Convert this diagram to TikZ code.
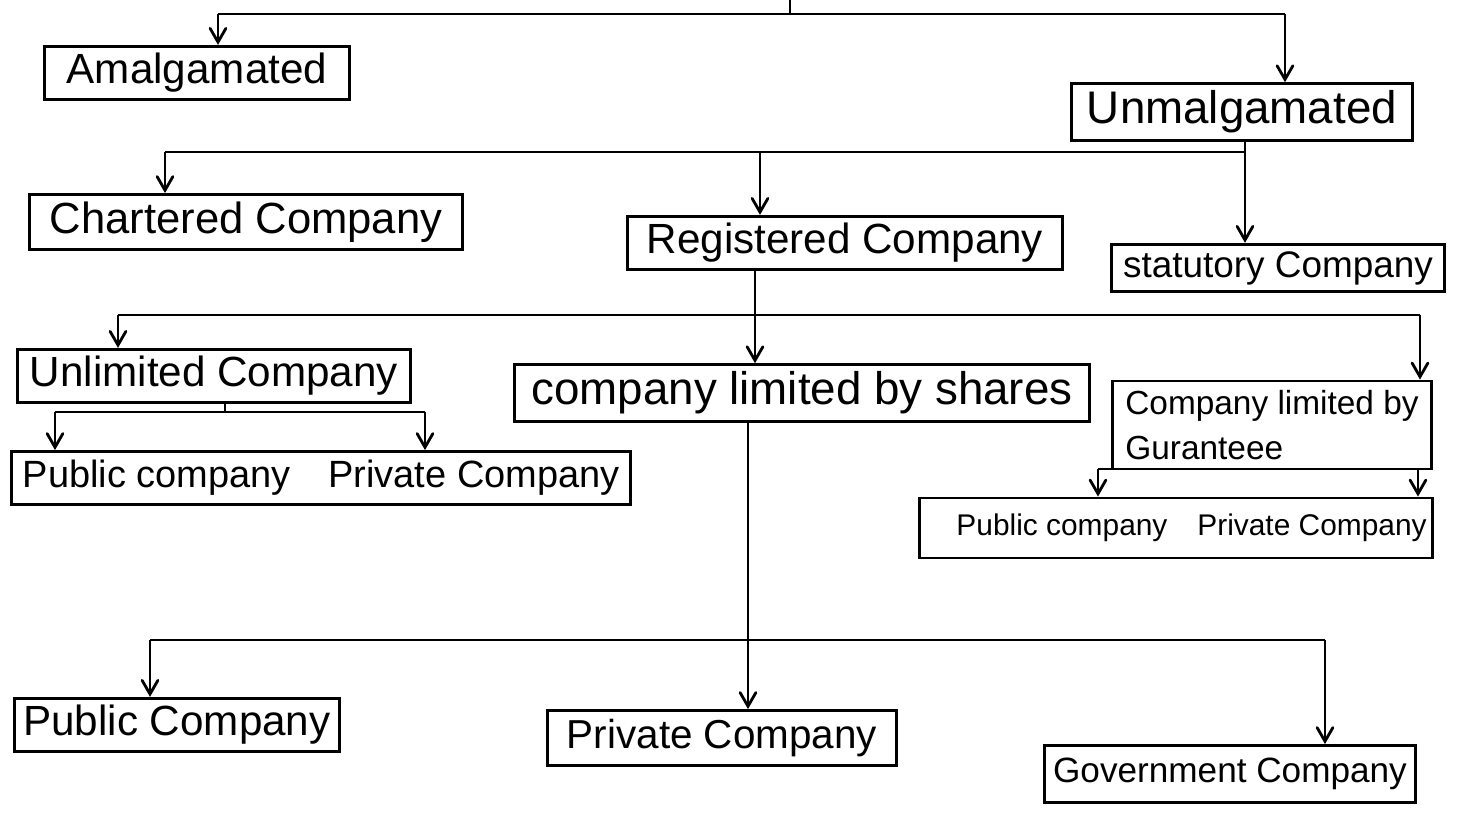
\documentclass[tikz,border=0pt]{standalone}
\usepackage{fontspec}
\setmainfont{Liberation Sans}
\usetikzlibrary{arrows}
\tikzset{
  box/.style={draw, thick, inner sep=2pt},
  fbig/.style={font=\fontsize{13}{15}\selectfont},
  fmid/.style={font=\fontsize{12}{14}\selectfont},
  fsml/.style={font=\fontsize{10.5}{12.5}\selectfont},
}

\begin{document}
\begin{tikzpicture}[x=0.01cm, y=-0.01cm, thick, >=angle 60]
\useasboundingbox (0,0) rectangle (1462,831);
% first row
\node[box, font=\fontsize{12}{14}\selectfont, minimum width=3.05cm, minimum height=0.52cm] (amal) at (197,73) {Amalgamated};
\node[box, fbig, minimum width=3.4cm, minimum height=0.52cm] (unmal) at (1242,112) {Unmalgamated};
% second row
\node[box, font=\fontsize{12.4}{14}\selectfont, minimum width=4.32cm, minimum height=0.55cm] (chart) at (246,222) {Chartered Company};
\node[box, fmid, minimum width=4.34cm, minimum height=0.5cm] (regd) at (845,243) {Registered Company};
\node[box, fsml, minimum width=3.33cm, minimum height=0.45cm] (stat) at (1278,268) {statutory Company};
% third row
\node[box, fmid, minimum width=3.92cm, minimum height=0.44cm] (unlim) at (214,376) {Unlimited Company};
\node[box, fbig, minimum width=5.75cm, minimum height=0.52cm] (shares) at (802,393) {company limited by shares};
\node[box, font=\fontsize{9.5}{13}\selectfont, align=left, minimum width=3.19cm, minimum height=0.88cm] (guar) at (1272,425) {Company limited by\\Guranteee};
% public / private boxes
\node[box, minimum width=6.18cm, minimum height=0.53cm] (pp1) at (321,478) {};
\node[font=\fontsize{10.8}{13}\selectfont] (pub1) at (157,478) {Public company};
\node[font=\fontsize{10.8}{13}\selectfont] (priv1) at (474,478) {Private Company};
\node[box, minimum width=5.12cm, minimum height=0.6cm] (pp2) at (1176,528) {};
\node[font=\fontsize{8.5}{11}\selectfont] (pub2) at (1062,528) {Public company};
\node[font=\fontsize{8.5}{11}\selectfont] (priv2) at (1312,528) {Private Company};
% last row
\node[box, fmid, minimum width=3.25cm, minimum height=0.52cm] (pubco) at (177,725) {Public Company};
\node[box, font=\fontsize{11.5}{13}\selectfont, minimum width=3.49cm, minimum height=0.55cm] (privco) at (722,738) {Private Company};
\node[box, font=\fontsize{10}{12}\selectfont, minimum width=3.7cm, minimum height=0.57cm] (govco) at (1230,774) {Government Company};

% top split
\coordinate (root) at (790,0);
\coordinate (rj) at (790,14);
\coordinate (a1) at (218,14);
\coordinate (a2) at (1285,14);
\draw (root) -- (rj);
\draw (a1) -- (a2);
\draw[->] (a1) -- (a1 |- amal.north);
\draw[->] (a2) -- (a2 |- unmal.north);

% unmalgamated
\coordinate (b1) at (165,152);
\coordinate (b2) at (760,152);
\coordinate (b3) at (1245,152);
\draw (unmal.south -| b3) -- (b3) -- (b1);
\foreach \c/\n in {b1/chart, b2/regd, b3/stat}
  \draw[->] (\c) -- (\c |- \n.north);

% registered
\coordinate (c1) at (118,315);
\coordinate (c2) at (755,315);
\coordinate (c3) at (1420,315);
\draw[->] (regd.south -| c2) -- (c2 |- shares.north);
\draw (c1) -- (c3);
\draw[->] (c1) -- (c1 |- unlim.north);
\draw[->] (c3) -- (c3 |- guar.north);

% unlimited
\coordinate (d0) at (225,412);
\coordinate (d1) at (55,412);
\coordinate (d2) at (425,412);
\draw (unlim.south -| d0) -- (d0);
\draw (d1) -- (d2);
\foreach \c in {d1,d2}
  \draw[->] (\c) -- (\c |- pp1.north);

% limited by shares
\coordinate (e1) at (150,640);
\coordinate (e2) at (748,640);
\coordinate (e3) at (1325,640);
\draw[->] (shares.south -| e2) -- (e2 |- privco.north);
\draw (e1) -- (e3);
\draw[->] (e1) -- (e1 |- pubco.north);
\draw[->] (e3) -- (e3 |- govco.north);

% limited by guarantee
\coordinate (f1) at (1098,469);
\coordinate (f2) at (1418,469);
\draw (f1) -- (f2);
\foreach \c in {f1,f2}
  \draw[->] (\c) -- (\c |- pp2.north);
\end{tikzpicture}
\end{document}
